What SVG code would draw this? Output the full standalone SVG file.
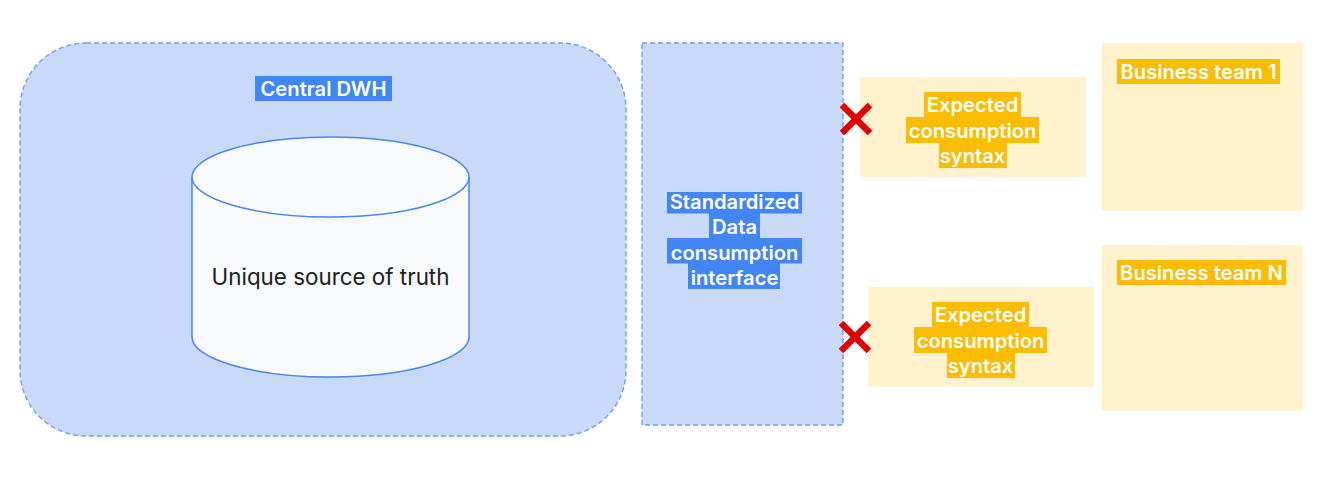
<svg xmlns="http://www.w3.org/2000/svg" width="1321" height="479" viewBox="0 0 1321 479">
<style>
.bluebox{fill:#c9daf8;stroke:#6d9eeb;stroke-width:1.4;stroke-dasharray:5 3}
.ybox{fill:#fff2cc}
.hb{fill:#4285f4}
.hy{fill:#fbbc04}
.lbl{font-family:Inter,"Open Sans","Liberation Sans",sans-serif;font-size:20.2px;font-weight:600;fill:#ffffff;text-anchor:middle}
.x{stroke:#e00000;stroke-width:6.5;stroke-linecap:butt}
</style>
<rect width="1321" height="479" fill="#ffffff"/>
<g id="central-dwh">
<rect class="bluebox" x="20" y="43" width="606" height="393" rx="66" ry="66"/>
<rect class="hb" x="255" y="76" width="137" height="25"/>
<text class="lbl" x="323.5" y="96">Central DWH</text>
</g>
<g id="unique-source">
<path d="M192,177 L192,337 A138.5,40 0 0 0 469,337 L469,177" fill="#f8f9fa" stroke="#4a86e8" stroke-width="1.5"/>
<ellipse cx="330.5" cy="177" rx="138.5" ry="40" fill="#f8f9fa" stroke="#4a86e8" stroke-width="1.5"/>
<text x="330.5" y="285" font-family="Inter,'Open Sans','Liberation Sans',sans-serif" font-size="22.4" fill="#202124" text-anchor="middle">Unique source of truth</text>
</g>
<g id="standardized-interface">
<rect class="bluebox" x="642" y="43" width="201" height="382"/>
<rect class="hb" x="667" y="192" width="135" height="21.5"/>
<rect class="hb" x="709" y="213" width="51" height="25.5"/>
<rect class="hb" x="667" y="238" width="135" height="25.5"/>
<rect class="hb" x="688" y="263" width="92" height="26"/>
<text class="lbl" x="734.5" y="209">Standardized</text>
<text class="lbl" x="734.5" y="234">Data</text>
<text class="lbl" x="734.5" y="259.5">consumption</text>
<text class="lbl" x="734.5" y="285">interface</text>
</g>
<g id="expected-syntax-1">
<rect class="ybox" x="860" y="77" width="226" height="100"/>
<rect class="hy" x="924" y="92" width="97" height="25"/>
<rect class="hy" x="906" y="117" width="133" height="26"/>
<rect class="hy" x="939" y="143" width="68" height="25"/>
<text class="lbl" x="972.5" y="111.5">Expected</text>
<text class="lbl" x="972.5" y="137.5">consumption</text>
<text class="lbl" x="972.5" y="162.5">syntax</text>
</g>
<g id="expected-syntax-2">
<rect class="ybox" x="868" y="287" width="226" height="100"/>
<rect class="hy" x="932" y="302" width="97" height="25"/>
<rect class="hy" x="914" y="327" width="133" height="26"/>
<rect class="hy" x="947" y="353" width="68" height="25"/>
<text class="lbl" x="980.5" y="321.5">Expected</text>
<text class="lbl" x="980.5" y="347.5">consumption</text>
<text class="lbl" x="980.5" y="372.5">syntax</text>
</g>
<g id="business-team-1">
<rect class="ybox" x="1102" y="43" width="201" height="168"/>
<rect class="hy" x="1117" y="59" width="163" height="25"/>
<text class="lbl" x="1198.5" y="78.5">Business team 1</text>
</g>
<g id="business-team-n">
<rect class="ybox" x="1102" y="245" width="201" height="166"/>
<rect class="hy" x="1117" y="260" width="169" height="25"/>
<text class="lbl" x="1201.5" y="279.5">Business team N</text>
</g>
<g id="connectors">
<g id="blocked-1">
<line class="x" x1="842" y1="105" x2="870" y2="133"/>
<line class="x" x1="870" y1="105" x2="842" y2="133"/>
</g>
<g id="blocked-2">
<line class="x" x1="841" y1="323" x2="869" y2="351"/>
<line class="x" x1="869" y1="323" x2="841" y2="351"/>
</g>
</g>
</svg>
